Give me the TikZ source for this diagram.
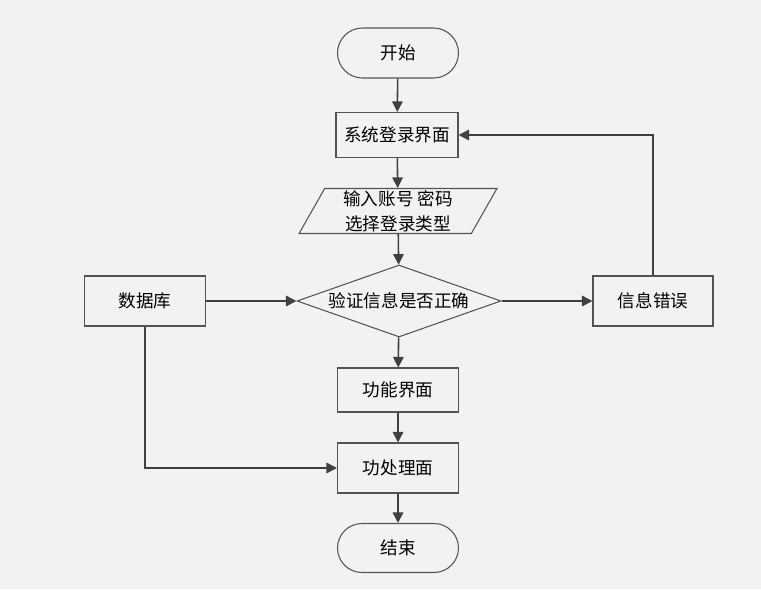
\documentclass[tikz,border=0pt]{standalone}
\usepackage{fontspec}
\setmainfont{Noto Sans CJK SC}
\usetikzlibrary{shapes.geometric,shapes.misc,arrows.meta}
\definecolor{bggray}{HTML}{F2F2F2}
\definecolor{linegray}{HTML}{404040}
\tikzset{
  box/.style={draw=linegray!90,fill=bggray,line width=0.6pt,minimum width=2.42cm,minimum height=1cm,inner sep=0pt,font=\fontsize{10}{14}\selectfont},
  term/.style={box,rounded rectangle},
  io/.style={box,trapezium,trapezium left angle=65,trapezium right angle=115,trapezium stretches=true,minimum width=3.96cm,minimum height=0.9cm,align=center},
  test/.style={box,diamond,aspect=2.8,minimum width=4.08cm,minimum height=1.44cm},
  arr/.style={-{Triangle[length=6pt,width=6pt]},draw=linegray,line width=0.9pt}
}
\begin{document}
\begin{tikzpicture}[x=0.02cm,y=-0.02cm]
\fill [bggray] (0,0) rectangle (761,589);

\node [term] (start) at (398,53) {开始};
\node [box,minimum width=2.44cm,minimum height=0.9cm] (login) at (397,135) {系统登录界面};
\node [io] (input) at (398,211) {输入账号 密码\\选择登录类型};
\node [test] (check) at (399,301) {验证信息是否正确};
\node [box] (db) at (145,301) {数据库};
\node [box,minimum width=2.4cm] (err) at (653,301) {信息错误};
\node [box,minimum height=0.88cm] (func) at (398,390) {功能界面};
\node [box] (proc) at (398,468) {功处理面};
\node [term,minimum height=0.98cm] (stop) at (398,548) {结束};

\draw [arr] (start) -- (login);
\draw [arr] (login) -- (input);
\draw [arr] (input) -- (check);
\draw [arr] (check) -- (func);
\draw [arr] (func) -- (proc);
\draw [arr] (proc) -- (stop);
\draw [arr] (db) -- (check);
\draw [arr] (check) -- (err);
\draw [arr] (err.north) |- (login.east);
\draw [arr] (db.south) |- (proc.west);
\end{tikzpicture}
\end{document}
